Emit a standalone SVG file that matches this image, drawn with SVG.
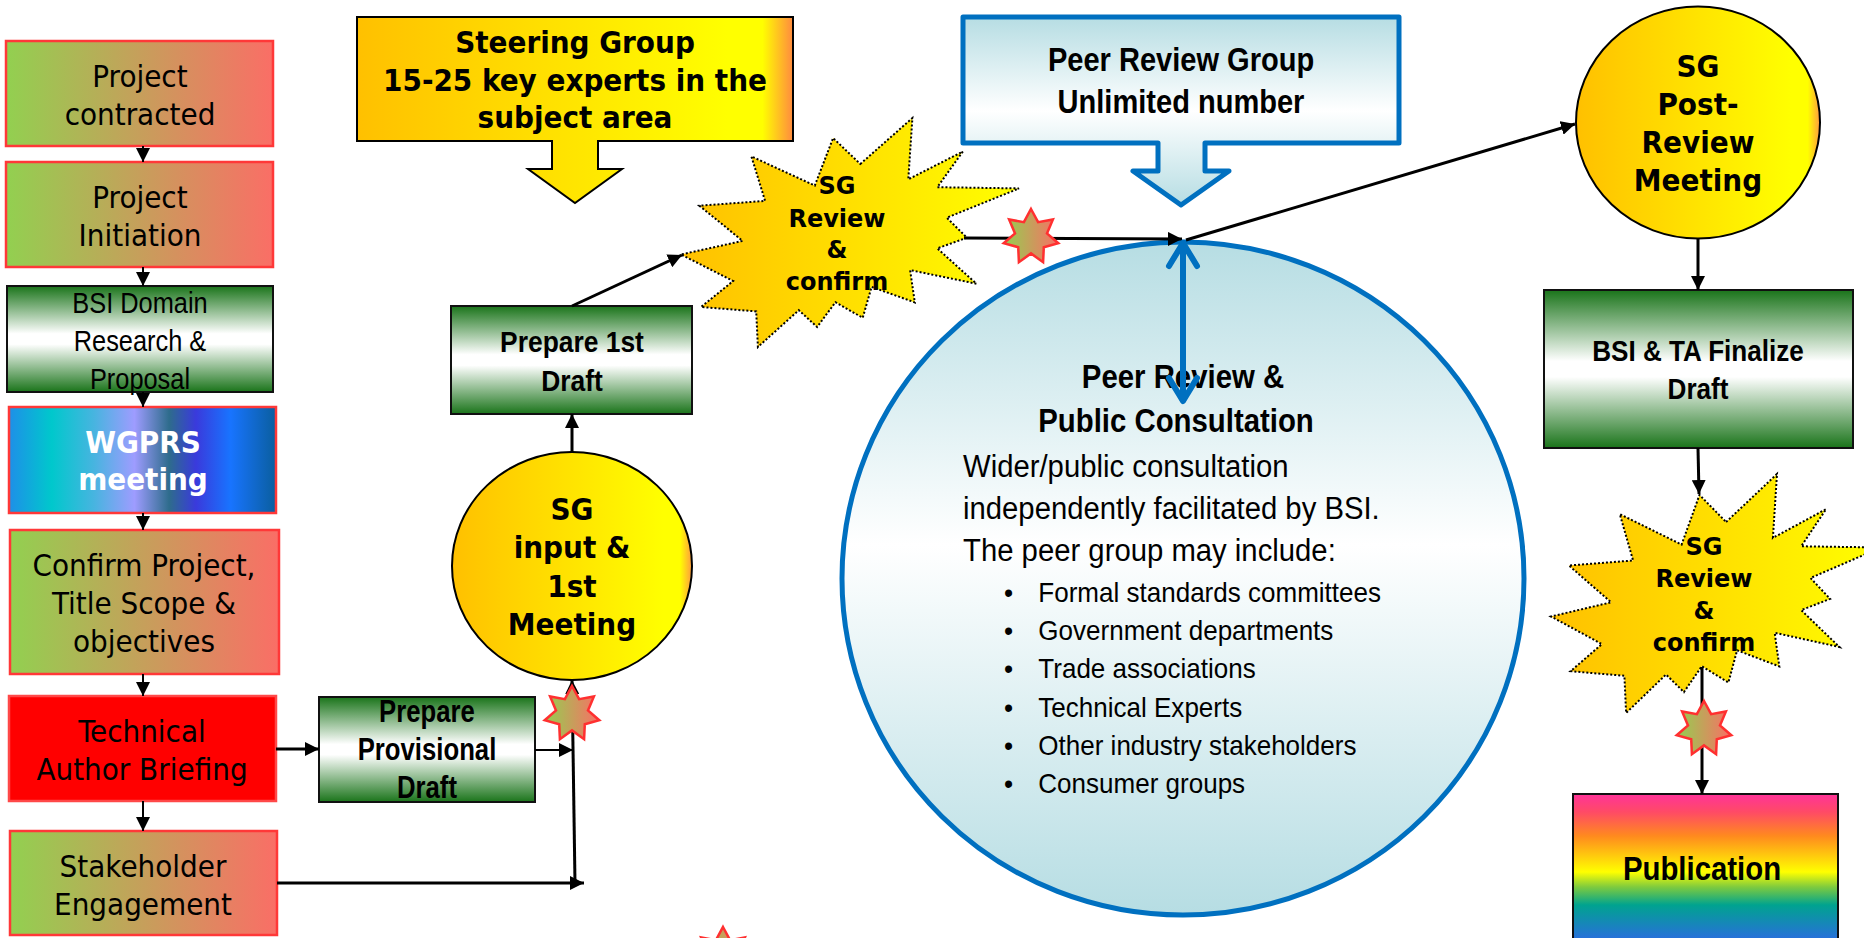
<svg xmlns="http://www.w3.org/2000/svg" width="1864" height="938" viewBox="0 0 1864 938">
<defs>
<linearGradient id="gr" x1="0" y1="0" x2="1" y2="0"><stop offset="0" stop-color="#92D050"/><stop offset="1" stop-color="#FA6E66"/></linearGradient>
<linearGradient id="gw" x1="0" y1="0" x2="0" y2="1"><stop offset="0" stop-color="#1A741A"/><stop offset="0.45" stop-color="#FFFFFF"/><stop offset="0.55" stop-color="#FFFFFF"/><stop offset="1" stop-color="#1A741A"/></linearGradient>
<linearGradient id="wg" x1="0" y1="0" x2="1" y2="0"><stop offset="0" stop-color="#1E8FE8"/><stop offset="0.16" stop-color="#00C8CC"/><stop offset="0.32" stop-color="#48B4E0"/><stop offset="0.47" stop-color="#9E9CFF"/><stop offset="0.6" stop-color="#2E6C8C"/><stop offset="0.7" stop-color="#3A3ADC"/><stop offset="0.83" stop-color="#1874FF"/><stop offset="1" stop-color="#0A5E9E"/></linearGradient>
<linearGradient id="yo" x1="0" y1="0" x2="1" y2="0"><stop offset="0" stop-color="#FFC000"/><stop offset="0.85" stop-color="#FFFF00"/><stop offset="0.93" stop-color="#FFFF00"/><stop offset="1" stop-color="#FF8A40"/></linearGradient>
<linearGradient id="yc" x1="0" y1="0" x2="1" y2="0"><stop offset="0" stop-color="#FFC000"/><stop offset="0.88" stop-color="#FFFF00"/><stop offset="0.95" stop-color="#FFFF00"/><stop offset="1" stop-color="#FF9A40"/></linearGradient>
<linearGradient id="ys" x1="0" y1="0" x2="1" y2="0"><stop offset="0" stop-color="#FFC000"/><stop offset="1" stop-color="#FFFF00"/></linearGradient>
<linearGradient id="bl" x1="0" y1="0" x2="0" y2="1"><stop offset="0" stop-color="#B6DDE3"/><stop offset="0.5" stop-color="#FFFFFF"/><stop offset="1" stop-color="#B6DDE3"/></linearGradient>
<linearGradient id="bc" x1="0" y1="0" x2="0" y2="1"><stop offset="0" stop-color="#B6DDE3"/><stop offset="0.45" stop-color="#FFFFFF"/><stop offset="1" stop-color="#B6DDE3"/></linearGradient>
<linearGradient id="rb" x1="0" y1="0" x2="0" y2="1"><stop offset="0" stop-color="#FF3399"/><stop offset="0.12" stop-color="#FF4A66"/><stop offset="0.28" stop-color="#FF8A1E"/><stop offset="0.52" stop-color="#FFFF00"/><stop offset="0.62" stop-color="#7ECB3E"/><stop offset="0.74" stop-color="#00A38F"/><stop offset="1" stop-color="#2E68E6"/></linearGradient>
<marker id="ah" markerUnits="userSpaceOnUse" markerWidth="14" markerHeight="14" viewBox="0 0 14 14" refX="14" refY="7" orient="auto"><path d="M0,0 L14,7 L0,14 Z" fill="#000"/></marker>
<path id="star7" d="M0,-28 L7.1,-14.8 L21.9,-17.5 L16,-3.6 L27.3,6.2 L12.8,10.2 L12.1,25.2 L0,16.4 L-12.1,25.2 L-12.8,10.2 L-27.3,6.2 L-16,-3.6 L-21.9,-17.5 L-7.1,-14.8 Z"/>
</defs>
<style>
.lb{stroke:#FF3838;stroke-width:2.5}
.gb{fill:url(#gw);stroke:#111;stroke-width:2}
.tah{font-family:"DejaVu Sans Condensed","DejaVu Sans",sans-serif;font-size:31px;text-anchor:middle;fill:#000}
.tb{font-family:"DejaVu Sans Condensed","DejaVu Sans",sans-serif;font-weight:bold;font-size:31px;text-anchor:middle;fill:#000}
.ver{font-family:"DejaVu Sans",sans-serif;font-weight:bold;font-size:24px;text-anchor:middle;fill:#000}
.ar{font-family:"Liberation Sans",Arial,sans-serif;fill:#000}
.arb{font-family:"Liberation Sans",Arial,sans-serif;font-weight:bold;text-anchor:middle;fill:#000}
.c{stroke:#000;stroke-width:3;fill:none;marker-end:url(#ah)}
.c2{stroke:#000;stroke-width:2;fill:none;marker-end:url(#ah)}
.burst{stroke:#000;stroke-width:2;stroke-dasharray:2 2;fill:url(#ys)}
.st{fill:url(#gr);stroke:#FF3030;stroke-width:2.5}
</style>
<rect width="1864" height="938" fill="#FFFFFF"/>

<g id="n-project-contracted"><rect x="6" y="41" width="267" height="105" fill="url(#gr)" class="lb"/><text class="tah" x="140" y="87">Project</text><text class="tah" x="140" y="125">contracted</text></g>
<g id="n-project-initiation"><rect x="6" y="162" width="267" height="105" fill="url(#gr)" class="lb"/><text class="tah" x="140" y="208">Project</text><text class="tah" x="140" y="246">Initiation</text></g>
<g id="n-bsi-domain"><rect x="7" y="286" width="266" height="106" class="gb"/><g class="ar" font-size="29" text-anchor="middle"><text transform="translate(140,0) scale(0.875,1)" x="0" y="313">BSI Domain</text><text transform="translate(140,0) scale(0.875,1)" x="0" y="351">Research &amp;</text><text transform="translate(140,0) scale(0.875,1)" x="0" y="389">Proposal</text></g></g>
<g id="n-wgprs"><rect x="9" y="407" width="267" height="106" fill="url(#wg)" class="lb"/><text class="tb" x="143" y="453" font-size="32" fill="#FFFFFF" style="fill:#FFFFFF">WGPRS</text><text class="tb" x="143" y="490" font-size="32" style="fill:#FFFFFF">meeting</text></g>
<g id="n-confirm"><rect x="10" y="530" width="269" height="144" fill="url(#gr)" class="lb"/><text class="tah" x="144" y="576">Confirm Project,</text><text class="tah" x="144" y="614">Title Scope &amp;</text><text class="tah" x="144" y="652">objectives</text></g>
<g id="n-tech-author"><rect x="9" y="696" width="267" height="105" fill="#FF0000" stroke="#FF4848" stroke-width="2.5"/><text class="tah" x="142" y="742">Technical</text><text class="tah" x="142" y="780">Author Briefing</text></g>
<g id="n-stakeholder"><rect x="10" y="831" width="267" height="104" fill="url(#gr)" class="lb"/><text class="tah" x="143" y="877">Stakeholder</text><text class="tah" x="143" y="915">Engagement</text></g>

<g id="n-steering"><path d="M357,17 H793 V141 H598 V169 H622 L575,203 L528,169 H552 V141 H357 Z" fill="url(#yo)" stroke="#000" stroke-width="2"/><text class="tb" x="575" y="53">Steering Group</text><text class="tb" x="575" y="91">15-25 key experts in the</text><text class="tb" x="575" y="128">subject area</text></g>
<g id="n-prepare-1st"><rect x="451" y="306" width="241" height="108" class="gb"/><g class="arb" font-size="30"><text transform="translate(572,0) scale(0.88,1)" x="0" y="352">Prepare 1st</text><text transform="translate(572,0) scale(0.88,1)" x="0" y="391">Draft</text></g></g>
<g id="n-sg-input"><ellipse cx="572" cy="566" rx="120" ry="114" fill="url(#yc)" stroke="#000" stroke-width="2"/><text class="tb" x="572" y="520">SG</text><text class="tb" x="572" y="558">input &amp;</text><text class="tb" x="572" y="597">1st</text><text class="tb" x="572" y="635">Meeting</text></g>
<g id="n-prepare-prov"><rect x="319" y="697" width="216" height="105" class="gb"/><g class="arb" font-size="31"><text transform="translate(427,0) scale(0.83,1)" x="0" y="722">Prepare</text><text transform="translate(427,0) scale(0.83,1)" x="0" y="760">Provisional</text><text transform="translate(427,0) scale(0.83,1)" x="0" y="798">Draft</text></g></g>
<g id="n-sg-review-1"><path class="burst" d="M860.3,164 L912.4,118 L908.3,179.3 L962.8,151.6 L937.3,187.2 L1019,188.4 L946.8,217.7 L966.9,237.7 L937.3,248.4 L976.4,283.7 L910.1,270.1 L914.8,302.4 L871.6,286.9 L862.7,317.8 L835.5,302.2 L817.1,327 L798.8,310.2 L757.9,347 L756.2,311.4 L701.1,307 L733.1,281 L681,254.5 L742.6,240.9 L699.4,205.7 L765.1,200.9 L751.4,156.4 L814.8,185.6 L833.1,138 Z"/><text class="ver" x="837" y="194">SG</text><text class="ver" x="837" y="227">Review</text><text class="ver" x="837" y="258">&amp;</text><text class="ver" x="837" y="290">confirm</text></g>
<g id="n-peer-group"><path d="M963,17 H1399 V143 H1205 V171 H1229 L1181,205 L1133,171 H1158 V143 H963 Z" fill="url(#bl)" stroke="#0070C0" stroke-width="5" stroke-linejoin="round"/><g class="arb" font-size="33"><text transform="translate(1181,0) scale(0.88,1)" x="0" y="71">Peer Review Group</text><text transform="translate(1181,0) scale(0.88,1)" x="0" y="113">Unlimited number</text></g></g>
<g id="n-peer-consult"><ellipse cx="1183" cy="578.5" rx="341" ry="336.5" fill="url(#bc)" stroke="#0070C0" stroke-width="5"/><g class="arb" font-size="33"><text transform="translate(1183,0) scale(0.89,1)" x="0" y="388">Peer Review &amp;</text><text transform="translate(1176,0) scale(0.89,1)" x="0" y="432">Public Consultation</text></g><g class="ar" font-size="31.5" transform="translate(963,0) scale(0.93,1)"><text x="0" y="477">Wider/public consultation</text><text x="0" y="519">independently facilitated by BSI.</text><text x="0" y="561">The peer group may include:</text><g font-size="28"><text x="44" y="602">•</text><text x="81" y="602">Formal standards committees</text><text x="44" y="640">•</text><text x="81" y="640">Government departments</text><text x="44" y="678">•</text><text x="81" y="678">Trade associations</text><text x="44" y="717">•</text><text x="81" y="717">Technical Experts</text><text x="44" y="755">•</text><text x="81" y="755">Other industry stakeholders</text><text x="44" y="793">•</text><text x="81" y="793">Consumer groups</text></g></g></g>
<g id="n-sg-post"><ellipse cx="1698" cy="122.5" rx="122" ry="116" fill="url(#yc)" stroke="#000" stroke-width="2"/><text class="tb" x="1698" y="77">SG</text><text class="tb" x="1698" y="115">Post-</text><text class="tb" x="1698" y="153">Review</text><text class="tb" x="1698" y="191">Meeting</text></g>
<g id="n-finalize"><rect x="1544" y="290" width="309" height="158" class="gb"/><g class="arb" font-size="30"><text transform="translate(1698,0) scale(0.87,1)" x="0" y="361">BSI &amp; TA Finalize</text><text transform="translate(1698,0) scale(0.87,1)" x="0" y="399">Draft</text></g></g>
<g id="n-sg-review-2"><path class="burst" d="M1726.1,522 L1777,474 L1772.9,537.9 L1826.1,509.1 L1801.2,546.3 L1881,547.5 L1810.5,578 L1830.1,598.9 L1801.2,610.1 L1839.4,647 L1774.7,632.8 L1779.3,666.4 L1737.1,650.3 L1728.4,682.5 L1701.8,666.2 L1683.9,692.1 L1666,674.5 L1626.1,713 L1624.4,675.8 L1570.6,671.2 L1601.9,644.1 L1551,616.5 L1611.1,602.3 L1568.9,565.5 L1633.1,560.5 L1619.8,514.1 L1681.6,544.6 L1699.5,494.9 Z"/><text class="ver" x="1704" y="555">SG</text><text class="ver" x="1704" y="587">Review</text><text class="ver" x="1704" y="619">&amp;</text><text class="ver" x="1704" y="651">confirm</text></g>
<g id="n-publication"><rect x="1573" y="794" width="265" height="150" fill="url(#rb)" stroke="#111" stroke-width="2"/><text class="arb" font-size="33" transform="translate(1702,0) scale(0.89,1)" x="0" y="880">Publication</text></g>

<g id="connectors">
<line class="c2" x1="143" y1="146" x2="143" y2="162"/>
<line class="c2" x1="143" y1="267" x2="143" y2="286"/>
<line class="c2" x1="143" y1="392" x2="143" y2="407"/>
<line class="c2" x1="143" y1="513" x2="143" y2="530"/>
<line class="c2" x1="143" y1="674" x2="143" y2="696"/>
<line class="c2" x1="143" y1="801" x2="143" y2="831"/>
<line class="c" x1="276" y1="749" x2="319" y2="749"/>
<line class="c2" x1="535" y1="750" x2="573" y2="750"/>
<line class="c" x1="277" y1="883" x2="584" y2="883"/>
<line class="c" x1="575" y1="883" x2="572" y2="680"/>
<line class="c" x1="572" y1="452" x2="572" y2="414"/>
<line class="c" x1="572" y1="306" x2="682" y2="255"/>
<line class="c" x1="964" y1="238" x2="1182" y2="239"/>
<line class="c" x1="1186" y1="240" x2="1575" y2="124"/>
<line class="c" x1="1698" y1="239" x2="1698" y2="290"/>
<line class="c" x1="1698" y1="448" x2="1699" y2="494"/>
<line class="c" x1="1702" y1="667" x2="1702" y2="794"/>
<g stroke="#0070C0" stroke-width="6" fill="none" stroke-linecap="round" stroke-linejoin="round"><line x1="1183" y1="245" x2="1183" y2="400"/><polyline points="1169,266 1183,243 1197,266"/><polyline points="1169,378 1183,401 1197,378"/></g>
</g>

<g id="n-stars">
<use href="#star7" class="st" transform="translate(572,714)"/>
<use href="#star7" class="st" transform="translate(1031,237)"/>
<use href="#star7" class="st" transform="translate(1704,729)"/>
<use href="#star7" class="st" transform="translate(723,955)"/>
</g>
</svg>
